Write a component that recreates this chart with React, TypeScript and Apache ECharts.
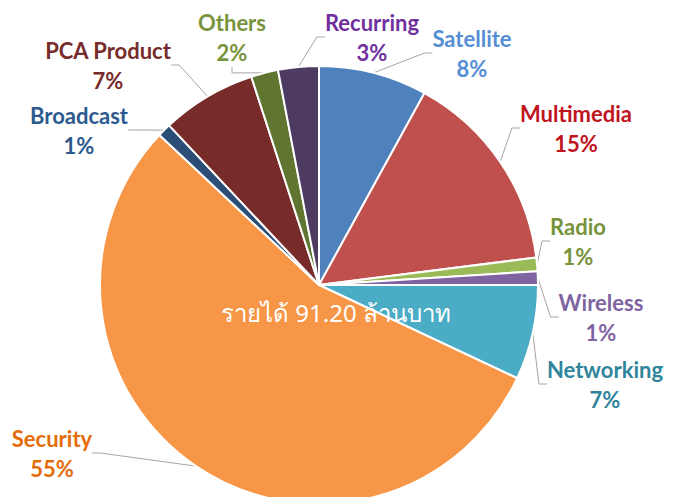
import React, { useEffect, useRef } from "react";
import * as echarts from "echarts";

const categories = ["Satellite", "Multimedia", "Radio", "Wireless", "Networking", "Security", "Broadcast", "PCA Product", "Others", "Recurring"];
const shares = [8, 15, 1, 1, 7, 55, 1, 7, 2, 3];
const sliceColors = ["#4F81BD", "#C0504D", "#9BBB59", "#8064A2", "#4BACC6", "#F79646", "#2C4D75", "#772C2A", "#5F7530", "#4D3B62"];
const labelColors = ["#558ED5", "#C0141E", "#77933C", "#8064A2", "#31859C", "#E46C0A", "#2C5A8E", "#772C2A", "#77933C", "#7030A0"];
const centerText = "รายได้ 91.20 ล้านบาท";

// label anchor positions (layout only)
const labelPositions: [number, number][] = [
  [472, 53], [576, 128], [578, 241], [601, 317], [605, 384],
  [52, 453], [79, 130], [108, 65], [232, 37], [372, 37],
];

export default function App() {
  const ref = useRef<HTMLDivElement>(null);
  useEffect(() => {
    if (!ref.current) return;
    const chart = echarts.init(ref.current, null, { renderer: "svg" });
    chart.setOption({
      animation: false,
      backgroundColor: "#ffffff",
      series: [
        {
          type: "pie",
          center: [319, 285],
          radius: 219,
          startAngle: 90,
          clockwise: true,
          avoidLabelOverlap: false,
          itemStyle: { borderColor: "#ffffff", borderWidth: 2 },
          data: categories.map((c, i) => ({
            name: c,
            value: shares[i],
            itemStyle: { color: sliceColors[i] },
            label: { color: labelColors[i] },
          })),
          label: {
            show: true,
            position: "outside",
            formatter: (p: any) => `${p.name}\n${p.value}%`,
            fontFamily: "Lato",
            fontWeight: "bold",
            fontSize: 22,
            lineHeight: 30,
            align: "center",
          },
          labelLine: { show: true, length: 8, length2: 8, lineStyle: { color: "#A6A6A6", width: 1 } },
          labelLayout: (params: any) => {
            const p = labelPositions[params.dataIndex];
            return { x: p[0], y: p[1], align: "center", verticalAlign: "middle" };
          },
        },
      ],
      graphic: [
        {
          type: "text",
          x: 336,
          y: 312,
          style: {
            text: centerText,
            fill: "#ffffff",
            fontSize: 24,
            fontFamily: "Tahoma, 'Noto Sans', sans-serif",
            align: "center",
            verticalAlign: "middle",
          },
          z: 100,
        },
      ],
    });
    return () => chart.dispose();
  }, []);
  return <div ref={ref} style={{ position: "fixed", left: 0, top: 0, width: 678, height: 497 }} />;
}
